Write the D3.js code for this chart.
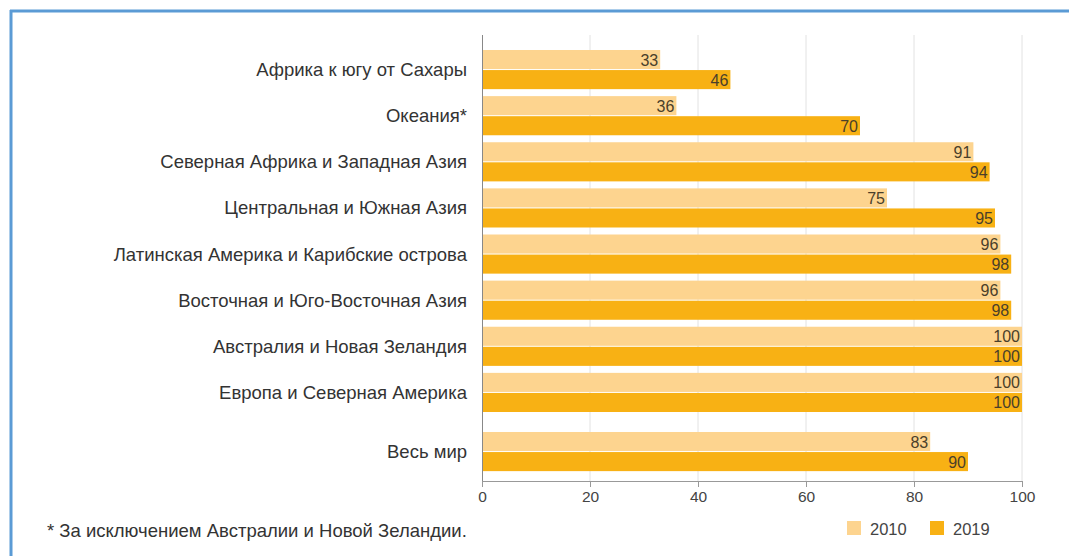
<!DOCTYPE html>
<html><head><meta charset="utf-8">
<script src="https://cdn.jsdelivr.net/npm/d3@7"></script>
<style>body{margin:0;background:#fff;font-family:"Liberation Sans",Arial,sans-serif}</style>
</head><body><svg id="c" width="1069" height="556"></svg>
<script>
const categories = ["Африка к югу от Сахары","Океания*","Северная Африка и Западная Азия","Центральная и Южная Азия","Латинская Америка и Карибские острова","Восточная и Юго-Восточная Азия","Австралия и Новая Зеландия","Европа и Северная Америка","Весь мир"];
const values2010 = [33,36,91,75,96,96,100,100,83];
const values2019 = [46,70,94,95,98,98,100,100,90];
const seriesNames = ["2010","2019"];
const tickValues = [0,20,40,60,80,100];
const footnote = "* За исключением Австралии и Новой Зеландии.";

const colors = ["#fdd48f","#f8b114"];
const svg = d3.select("#c");
// frame
svg.append("line").attr("x1",10).attr("x2",1069).attr("y1",11).attr("y2",11).attr("stroke","#5b9bd5").attr("stroke-width",3);
svg.append("line").attr("x1",11).attr("x2",11).attr("y1",10).attr("y2",556).attr("stroke","#5b9bd5").attr("stroke-width",3);

const axisY = 481;
const x = d3.scaleLinear().domain([0,100]).range([482,1022]);
const y = d3.scaleBand().domain(categories.slice(0,8)).range([50,413]).paddingInner(0.13).paddingOuter(0.0);
const bw = y.bandwidth();
const step = y.step();
function gy(i){ return i<8 ? y(categories[i]) : y(categories[7]) + step + 13; }

const g = svg.append("g");
// gridlines
g.selectAll("line.grid").data(tickValues.slice(1)).join("line")
  .attr("x1",d=>x(d)).attr("x2",d=>x(d)).attr("y1",35).attr("y2",axisY)
  .attr("stroke","#e2e2e2").attr("stroke-width",1);

const half = bw/2;
categories.forEach((c,i)=>{
  const top = gy(i);
  [values2010[i],values2019[i]].forEach((v,k)=>{
    const yy = top + k*half;
    g.append("rect").attr("x",x(0)).attr("y",yy).attr("width",x(v)-x(0)).attr("height",half-1).attr("fill",colors[k]);
    g.append("text").attr("x",x(v)-2).attr("y",yy+half/2+5.5).attr("text-anchor","end")
      .attr("font-size",16).attr("fill","#4a3f2a").text(v);
  });
  g.append("text").attr("x",467).attr("y",top+bw/2+6).attr("text-anchor","end")
    .attr("font-size",18.5).attr("fill","#333").text(c);
});

// axes
const ax = svg.append("g").attr("transform",`translate(0,${axisY})`)
  .call(d3.axisBottom(x).tickValues(tickValues).tickSize(6).tickSizeOuter(0));
ax.select(".domain").attr("stroke","#999");
ax.selectAll(".tick line").attr("stroke","#999");
ax.selectAll(".tick text").attr("font-size",15.5).attr("fill","#444").attr("font-family","Liberation Sans, Arial, sans-serif").attr("y",10);
svg.append("line").attr("x1",482.5).attr("x2",482.5).attr("y1",35).attr("y2",axisY).attr("stroke","#888");

// footnote
svg.append("text").attr("x",47).attr("y",537).attr("font-size",18.5).attr("fill","#333").text(footnote);
// legend
const lx = [847,930];
seriesNames.forEach((s,k)=>{
  svg.append("rect").attr("x",lx[k]).attr("y",521).attr("width",14).attr("height",14).attr("fill",colors[k]);
  svg.append("text").attr("x",lx[k]+23).attr("y",535).attr("font-size",16.5).attr("fill","#444").text(s);
});
</script></body></html>
